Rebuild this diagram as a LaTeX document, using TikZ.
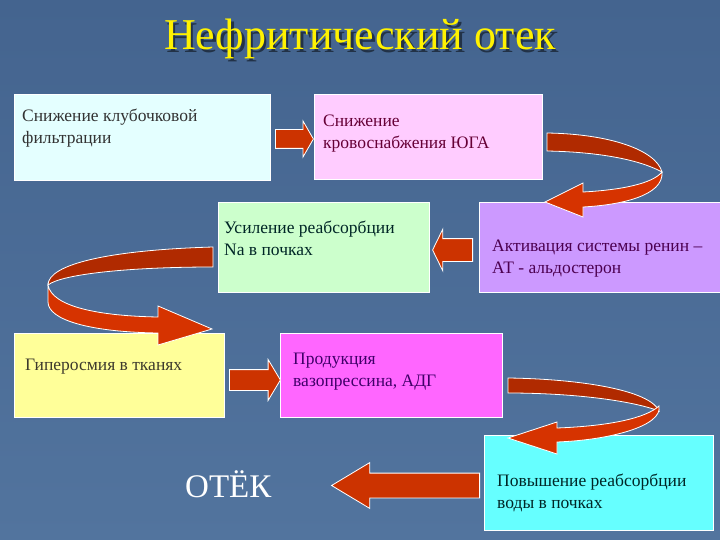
\documentclass[tikz,border=0pt]{standalone}
\usepackage{fontspec}
\setmainfont{Liberation Serif}
\newfontfamily\slidefont{Liberation Serif}
\usetikzlibrary{shapes.arrows}

\definecolor{bgtop}{HTML}{44648F}
\definecolor{bgbot}{HTML}{52749E}
\definecolor{arrowred}{HTML}{CC3300}
\definecolor{ribbondark}{HTML}{B02A00}
\definecolor{ribbonlight}{HTML}{D63300}
\definecolor{glomcol}{HTML}{E4FFFF}
\definecolor{krocol}{HTML}{FFCCFF}
\definecolor{reabcol}{HTML}{CCFFCC}
\definecolor{renincol}{HTML}{CC99FF}
\definecolor{hypercol}{HTML}{FFFF99}
\definecolor{vasocol}{HTML}{FF66FF}
\definecolor{watercol}{HTML}{66FFFF}

\begin{document}
\begin{tikzpicture}[x=1pt, y=-1pt,
    box/.style={draw=white, line width=0.8pt, anchor=north west, inner sep=0pt},
    txt/.style={anchor=north west, align=left, inner sep=0pt,
      font=\slidefont\fontsize{17.5}{21.5}\selectfont},
    blockarrow/.style={single arrow, draw=white, fill=arrowred, line width=0.8pt,
      inner xsep=0pt, single arrow head indent=0pt, anchor=tail},
    ribbon/.style={draw=white, line width=0.8pt}]
   % background
   \fill[top color=bgtop, bottom color=bgbot] (0,0) rectangle (720,540);
   \useasboundingbox (0,0) rectangle (720,540);
   % title
   \node[anchor=base, font=\slidefont\fontsize{44}{44}\selectfont, text=black, opacity=0.5]
     (titleshadow) at (362.5,52.5) {Нефритический отек};
   \node[anchor=base, font=\slidefont\fontsize{44}{44}\selectfont, text=yellow]
     (title) at (360,50) {Нефритический отек};
   % boxes
   \node[box, fill=glomcol, minimum width=256pt, minimum height=86pt] (glom) at (14,94) {};
   \node[box, fill=krocol, minimum width=228pt, minimum height=85pt] (kro) at (314,94) {};
   \node[box, fill=reabcol, minimum width=211pt, minimum height=90pt] (reab) at (218,202) {};
   \node[box, fill=renincol, minimum width=241pt, minimum height=90pt] (renin) at (479,202) {};
   \node[box, fill=hypercol, minimum width=210pt, minimum height=84pt] (hyper) at (14,333) {};
   \node[box, fill=vasocol, minimum width=222pt, minimum height=84pt] (vaso) at (280,333) {};
   \node[box, fill=watercol, minimum width=229pt, minimum height=95pt] (water) at (484,435) {};
   % texts
   \node[txt, text=black!80] (glomtxt) at (22,109) {Снижение клубочковой\\фильтрации};
   \node[txt, text=black!65!blue!60!red] (krotxt) at (323,115) {Снижение\\кровоснабжения ЮГА};
   \node[txt, text=black!70!teal] (reabtxt) at (224,221) {Усиление реабсорбции\\Na в почках};
   \node[txt, text=black!55!blue!70!red] (renintxt) at (492,240) {Активация системы ренин –\\АТ - альдостерон};
   \node[txt, text=black!75!olive] (hypertxt) at (25,359) {Гиперосмия в тканях};
   \node[txt, text=black!45!blue!75!red] (vasotxt) at (293,353) {Продукция\\вазопрессина, АДГ};
   \node[txt, text=black!70!teal] (watertxt) at (497,474) {Повышение реабсорбции\\воды в почках};
   \node[anchor=base west, inner sep=0pt, text=white, font=\slidefont\fontsize{33}{33}\selectfont]
     (oedema) at (185,497) {ОТЁК};
   % straight arrows
   \node[blockarrow, minimum height=38pt, inner ysep=9pt,
     single arrow head extend=8.5pt, single arrow tip angle=120] (arrA) at (275,139) {};
   \node[blockarrow, minimum height=40pt, inner ysep=11pt, shape border rotate=180,
     single arrow head extend=9.5pt, single arrow tip angle=128] (arrC) at (473,250) {};
   \node[blockarrow, minimum height=51pt, inner ysep=10pt,
     single arrow head extend=10pt, single arrow tip angle=118] (arrE) at (229,380) {};
   \node[blockarrow, minimum height=148pt, inner ysep=12pt, shape border rotate=180,
     single arrow head extend=10.5pt, single arrow tip angle=62] (arrG) at (480,485.5) {};
   % curved arrow kro -> renin
   \filldraw[ribbon, fill=ribbondark] (547,133) .. controls (610,134) and (656,150) .. (662,172)
     .. controls (640,160) and (600,152) .. (547,151) -- cycle;
   \filldraw[ribbon, fill=ribbonlight] (662,172) .. controls (664,196) and (620,205) .. (583,207)
     -- (583,217) -- (545,202) -- (583,183) -- (583,192)
     .. controls (620,190) and (652,184) .. (662,172) -- cycle;
   % curved arrow reab -> hyper
   \filldraw[ribbon, fill=ribbondark] (213,247) .. controls (110,250) and (48,264) .. (48,285)
     .. controls (62,274) and (130,267) .. (213,267) -- cycle;
   \filldraw[ribbon, fill=ribbonlight] (48,285) .. controls (52,307) and (100,316) .. (158,317)
     -- (158,306) -- (212,329) -- (158,345) -- (158,333)
     .. controls (90,332) and (48,320) .. (48,302) -- cycle;
   % curved arrow vaso -> water
   \filldraw[ribbon, fill=ribbondark] (508,378) .. controls (580,379) and (650,390) .. (659,411)
     .. controls (630,400) and (570,393) .. (508,393) -- cycle;
   \filldraw[ribbon, fill=ribbonlight] (659,406) .. controls (663,426) and (610,440) .. (557,442)
     -- (557,454) -- (508,438) -- (557,422) -- (557,428)
     .. controls (610,426) and (646,418) .. (659,406) -- cycle;
 \end{tikzpicture}
\end{document}
